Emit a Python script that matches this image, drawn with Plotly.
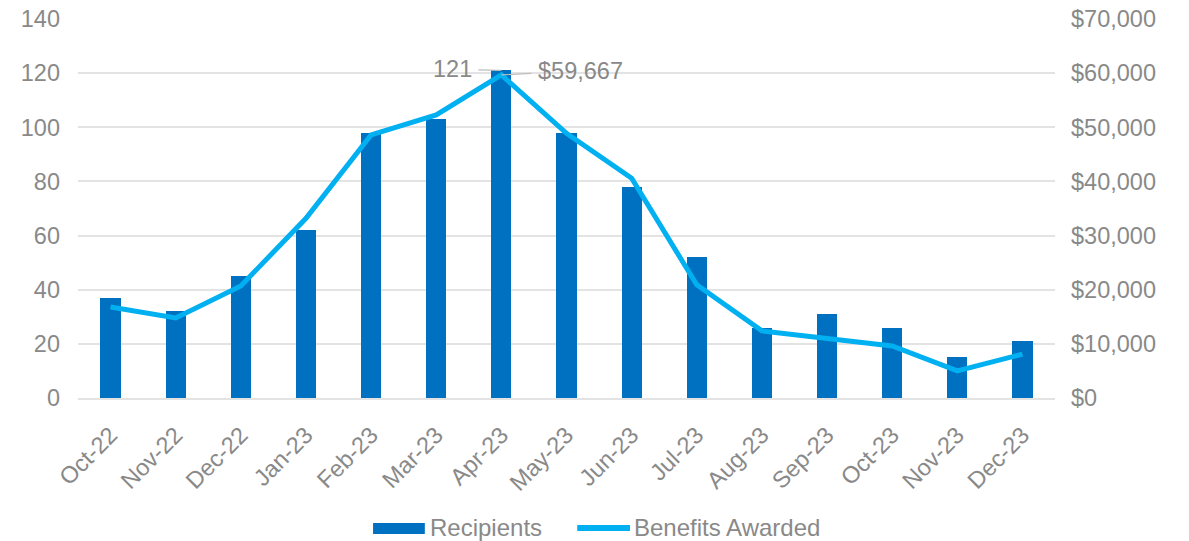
import plotly.graph_objects as go

months = ["Oct-22", "Nov-22", "Dec-22", "Jan-23", "Feb-23", "Mar-23", "Apr-23", "May-23",
          "Jun-23", "Jul-23", "Aug-23", "Sep-23", "Oct-23", "Nov-23", "Dec-23"]
recipients = [37, 32, 45, 62, 98, 103, 121, 98, 78, 52, 26, 31, 26, 15, 21]
benefits = [16800, 14800, 20700, 33200, 48600, 52300, 59667, 48900, 40600, 20900,
            12400, 11100, 9600, 5000, 8100]

left_ticks = [0, 20, 40, 60, 80, 100, 120, 140]
right_ticks = [0, 10000, 20000, 30000, 40000, 50000, 60000, 70000]
right_labels = ["$0", "$10,000", "$20,000", "$30,000", "$40,000", "$50,000", "$60,000", "$70,000"]

BAR = "#0070C0"
LINE = "#00B0F0"
GREY = "#898989"
GRID = "#e3e3e3"
FONT = "Liberation Sans, Arial, sans-serif"
FS = 23.5
LEG_FS = 24

fig = go.Figure()
fig.add_trace(go.Bar(x=months, y=recipients, name="Recipients", marker_color=BAR,
                     marker_line_width=0, width=0.31, showlegend=False))
fig.add_trace(go.Scatter(x=months, y=benefits, name="Benefits Awarded", yaxis="y2",
                         mode="lines", line=dict(color=LINE, width=5), showlegend=False))

# callouts on the peak month
peak = recipients.index(max(recipients))
fig.add_annotation(x=months[peak], y=recipients[peak], text=str(recipients[peak]),
                   showarrow=True, arrowhead=0, arrowwidth=1.2, arrowcolor="#bfbfbf",
                   ax=-49, ay=-1, borderpad=6, font=dict(size=FS, color=GREY))
fig.add_annotation(x=months[peak], y=benefits[peak], yref="y2",
                   text="${:,}".format(benefits[peak]),
                   showarrow=True, arrowhead=0, arrowwidth=1.2, arrowcolor="#bfbfbf",
                   ax=79, ay=-4, borderpad=6, font=dict(size=FS, color=GREY))

# legend drawn below the axis in paper coordinates
fig.add_shape(type="rect", xref="paper", yref="paper", x0=0.302, x1=0.355,
              y0=-0.359, y1=-0.330, fillcolor=BAR, line_width=0)
fig.add_shape(type="line", xref="paper", yref="paper", x0=0.511, x1=0.565,
              y0=-0.343, y1=-0.343, line=dict(color=LINE, width=6))
fig.add_annotation(xref="paper", yref="paper", x=0.358, y=-0.343, text="Recipients",
                   showarrow=False, xanchor="left", yanchor="middle",
                   font=dict(size=LEG_FS, color=GREY))
fig.add_annotation(xref="paper", yref="paper", x=0.567, y=-0.343, text="Benefits Awarded",
                   showarrow=False, xanchor="left", yanchor="middle",
                   font=dict(size=LEG_FS, color=GREY))

fig.update_layout(
    width=1189, height=541,
    margin=dict(l=78, r=134, t=19, b=143, autoexpand=False),
    paper_bgcolor="white", plot_bgcolor="white",
    font=dict(family=FONT, size=FS, color=GREY),
    bargap=0,
    xaxis=dict(tickangle=-45, showgrid=False, showline=True, linecolor=GRID,
               linewidth=2, ticks="", automargin=False, ticklabelstandoff=12,
               tickfont=dict(size=FS, color=GREY)),
    yaxis=dict(range=[0, 140], tickvals=left_ticks, showgrid=True, gridcolor=GRID,
               gridwidth=2, zeroline=False, ticks="", automargin=False,
               ticklabelstandoff=17, tickfont=dict(size=FS, color=GREY)),
    yaxis2=dict(range=[0, 70000], tickvals=right_ticks, ticktext=right_labels,
                overlaying="y", side="right", showgrid=False, zeroline=False, ticks="",
                automargin=False, ticklabelstandoff=15,
                tickfont=dict(size=FS, color=GREY)),
    showlegend=False,
)

fig.write_html("out.html")
